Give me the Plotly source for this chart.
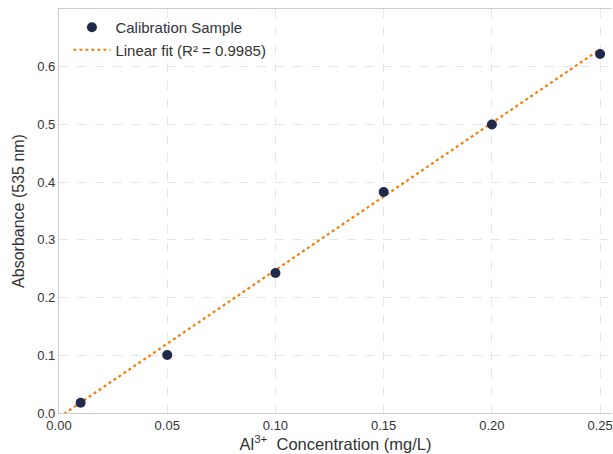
import numpy as np
import plotly.graph_objects as go

conc = [0.01, 0.05, 0.10, 0.15, 0.20, 0.25]
absorb = [0.0178, 0.1005, 0.2425, 0.383, 0.500, 0.622]
fit_label = "Linear fit (R² = 0.9985)"
fit_slope = 2.55
fit_intercept = -0.0074
fit_range = [0.0, 0.25]
x_ticks = [0.00, 0.05, 0.10, 0.15, 0.20, 0.25]
y_ticks = [0.0, 0.1, 0.2, 0.3, 0.4, 0.5, 0.6]

fit_x = np.array(fit_range)
fit_y = fit_slope * fit_x + fit_intercept

fig = go.Figure()
fig.add_trace(go.Scatter(
    x=fit_x, y=fit_y, mode="lines", name=fit_label,
    line=dict(color="#f07f0b", width=2.2, dash="dot"),
))
fig.add_trace(go.Scatter(
    x=conc, y=absorb, mode="markers", name="Calibration Sample",
    marker=dict(color="#1f2a4a", size=10),
))

fig.update_layout(
    width=613, height=454,
    margin=dict(l=59, r=1, t=9, b=41),
    paper_bgcolor="white", plot_bgcolor="white",
    font=dict(family="Liberation Sans, Arial, sans-serif", color="#333333", size=12),
    showlegend=True,
    legend=dict(x=0.017, y=0.995, xanchor="left", yanchor="top",
                bgcolor="rgba(255,255,255,0)", font=dict(size=15, color="#333333"),
                traceorder="reversed", itemwidth=37, tracegroupgap=0),
    xaxis=dict(
        range=[0, 0.2555], tickvals=x_ticks, tickformat=".2f",
        showgrid=True, gridcolor="#e6e6e6", griddash="dash", gridwidth=1,
        showline=True, linecolor="#cccccc", linewidth=1.3, mirror=True,
        zeroline=False, ticks="",
        title=dict(text="Al<sup>3+</sup>  Concentration (mg/L)", font=dict(size=16.5), standoff=6),
        tickfont=dict(size=13),
    ),
    yaxis=dict(
        range=[0, 0.70], tickvals=y_ticks, tickformat=".1f",
        showgrid=True, gridcolor="#e6e6e6", griddash="dash", gridwidth=1,
        showline=True, linecolor="#cccccc", linewidth=1.3,
        zeroline=False, ticks="",
        title=dict(text="Absorbance (535 nm)", font=dict(size=16), standoff=8),
        tickfont=dict(size=13),
    ),
)

fig.write_html("out.html")
